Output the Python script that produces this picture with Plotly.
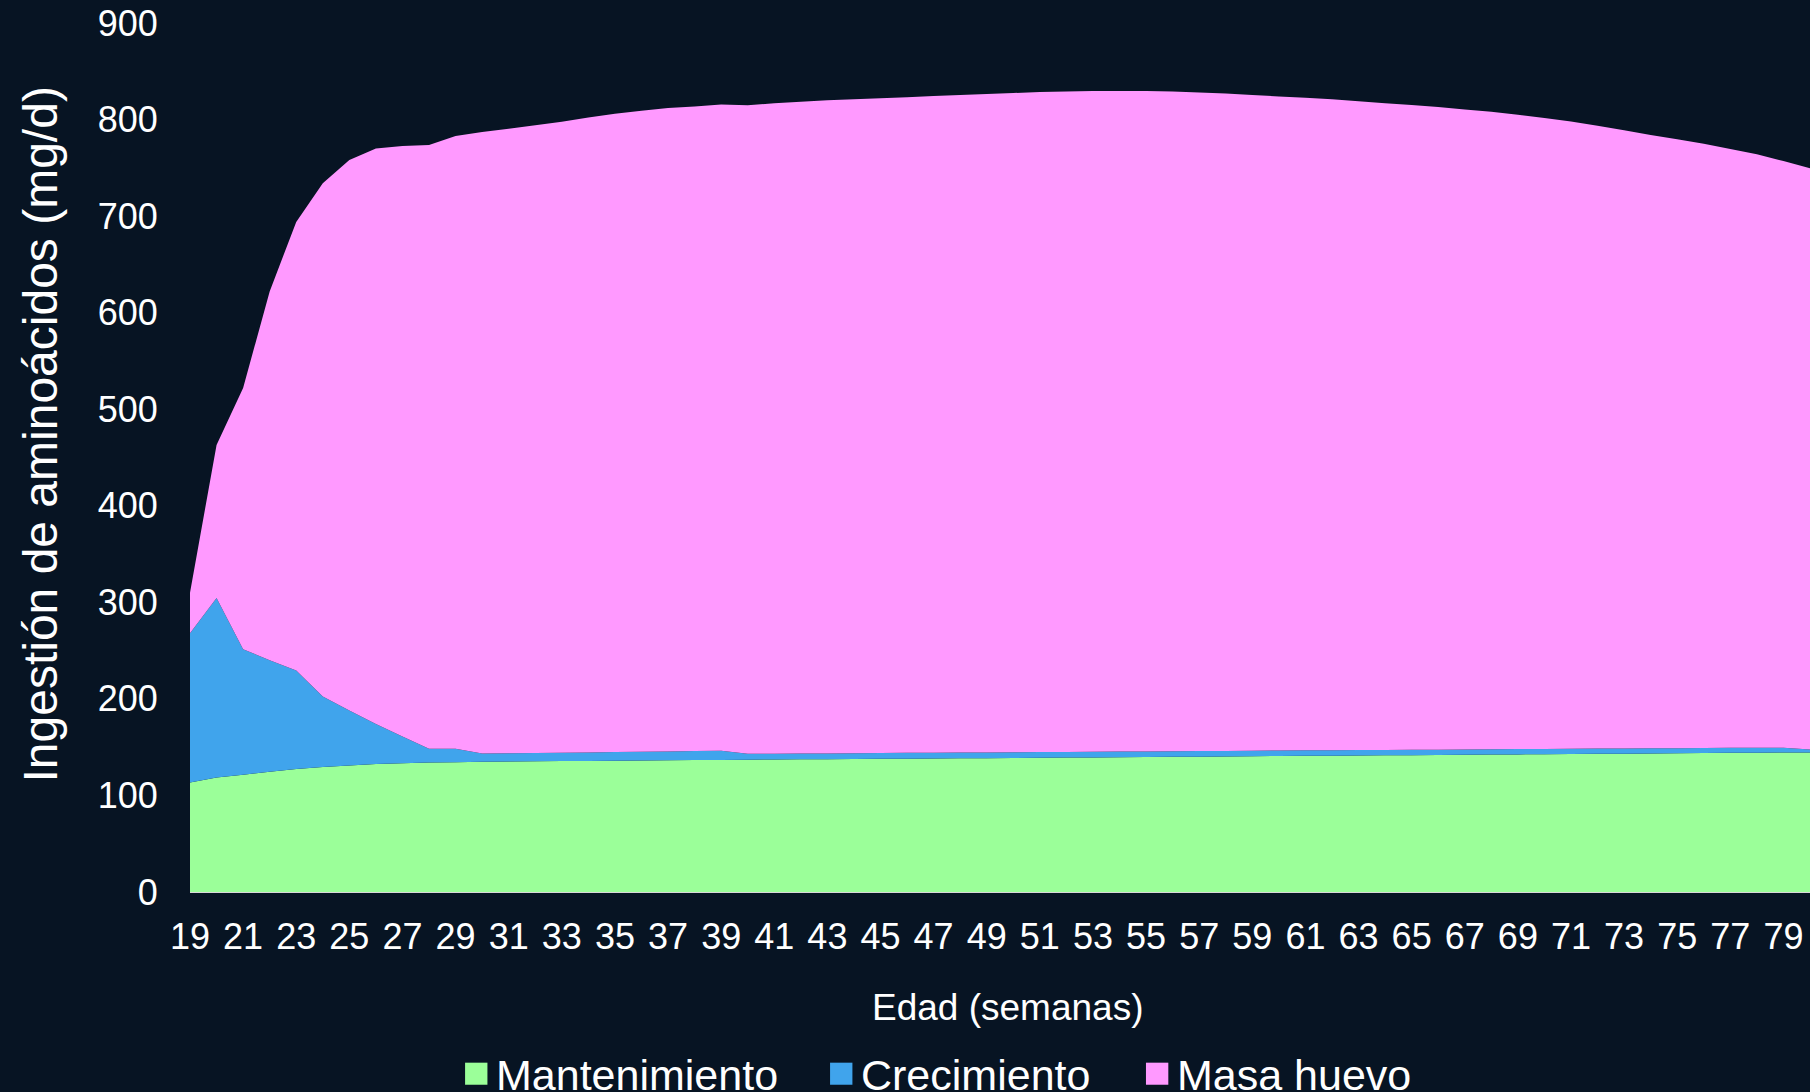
import plotly.graph_objects as go

# Edad (semanas)
semanas = list(range(19, 81))

# valores (mg/d), apilados
mantenimiento = [
    113.5, 118.5, 121.5, 124.5, 127.5, 129.5, 131.0, 132.5, 133.3, 134.0,
    134.5, 135.0, 135.2, 135.4, 135.6, 135.8, 136.0, 136.2, 136.4, 136.6,
    136.8, 137.0, 137.2, 137.4, 137.5, 137.7, 137.9, 138.1, 138.3, 138.4,
    138.6, 138.8, 139.0, 139.2, 139.4, 139.6, 139.8, 140.0, 140.2, 140.4,
    140.6, 140.8, 141.0, 141.2, 141.4, 141.5, 141.7, 141.9, 142.1, 142.3,
    142.5, 142.7, 142.9, 143.1, 143.3, 143.5, 143.7, 143.9, 144.1, 144.3,
    144.5, 144.6,
]
crecimiento = [
    154.5, 186.0, 130.0, 115.5, 102.0, 73.0, 57.0, 41.5, 27.7, 14.3,
    13.8, 8.5, 8.6, 8.6, 8.7, 8.8, 9.0, 9.1, 9.2, 9.4,
    9.5, 6.2, 6.0, 6.0, 6.0, 6.0, 6.0, 6.0, 6.0, 6.0,
    5.9, 5.9, 5.9, 5.9, 5.9, 5.8, 5.8, 5.8, 5.8, 5.7,
    5.7, 5.7, 5.7, 5.6, 5.6, 5.6, 5.6, 5.5, 5.5, 5.5,
    5.5, 5.4, 5.4, 5.4, 5.4, 5.3, 5.3, 5.3, 5.3, 5.2,
    5.0, 3.0,
]
masa_huevo = [
    42.0, 158.5, 270.5, 382.0, 464.5, 531.5, 570.0, 596.0, 611.5, 625.3,
    634.7, 643.5, 646.7, 650.0, 653.4, 657.4, 661.0, 663.7, 666.4, 667.5,
    669.4, 671.5, 673.8, 675.1, 676.5, 677.3, 678.1, 678.9, 680.2, 681.1,
    682.0, 682.8, 683.6, 683.9, 684.2, 684.1, 683.9, 683.2, 682.0, 680.9,
    679.2, 677.5, 675.8, 674.2, 672.0, 669.9, 667.7, 665.6, 662.9, 660.2,
    657.0, 653.4, 649.7, 645.0, 640.3, 635.2, 630.5, 625.8, 620.1, 614.5,
    607.5, 601.9,
]

nombres = ["Mantenimiento", "Crecimiento", "Masa huevo"]
colores = ["#9BFF99", "#40A4EC", "#FF99FF"]
valores = [mantenimiento, crecimiento, masa_huevo]

etiquetas_x = list(range(19, 80, 2))
etiquetas_y = list(range(0, 901, 100))

fondo = "#071423"
fuente = "Liberation Sans, Arial, sans-serif"

fig = go.Figure()
for nombre, ys, color in zip(nombres, valores, colores):
    fig.add_trace(go.Scatter(
        x=semanas, y=ys, name=nombre,
        mode="none", stackgroup="uno",
        fillcolor=color, showlegend=False,
    ))

# leyenda a mano (cuadrado + texto), en coordenadas de papel
pos_leyenda = [0.1698, 0.3951, 0.5901]
lado = 0.0138
formas = []
notas = []
for nombre, color, x0 in zip(nombres, colores, pos_leyenda):
    formas.append(dict(
        type="rect", xref="paper", yref="paper",
        x0=x0, x1=x0 + lado, y0=-0.2218, y1=-0.1964,
        fillcolor=color, line=dict(width=0),
    ))
    notas.append(dict(
        text=nombre, xref="paper", yref="paper",
        x=x0 + lado + 0.0043, y=-0.2102,
        xanchor="left", yanchor="middle", showarrow=False,
        font=dict(size=43, color="white"),
    ))

# títulos de ejes
notas.append(dict(
    text="Ingestión de aminoácidos (mg/d)",
    xref="paper", yref="paper", x=-0.0923, y=0.527,
    xanchor="center", yanchor="middle", textangle=-90,
    showarrow=False, font=dict(size=48, color="white"),
))
notas.append(dict(
    text="Edad (semanas)",
    xref="paper", yref="paper", x=0.5044, y=-0.1328,
    xanchor="center", yanchor="middle",
    showarrow=False, font=dict(size=37, color="white"),
))

fig.update_layout(
    width=1810, height=1092,
    paper_bgcolor=fondo,
    plot_bgcolor="rgba(0,0,0,0)",
    margin=dict(l=190, r=0, t=23, b=200, autoexpand=False),
    font=dict(family=fuente, color="white", size=36),
    showlegend=False,
    xaxis=dict(
        range=[19, 80],
        tickvals=etiquetas_x,
        ticks="outside", ticklen=13, tickcolor="rgba(0,0,0,0)",
        showgrid=False, zeroline=False,
        showline=True, linecolor="#d9d9d9", linewidth=1,
        tickfont=dict(size=36, color="white"),
    ),
    yaxis=dict(
        range=[0, 900],
        tickvals=etiquetas_y,
        ticks="outside", ticklen=24, tickcolor="rgba(0,0,0,0)",
        showgrid=False, zeroline=False, showline=False,
        tickfont=dict(size=36, color="white"),
    ),
    shapes=formas,
    annotations=notas,
)

fig.write_html(
    "out.html",
    config={"displayModeBar": False},
    post_script="document.body.style.margin='0';document.body.style.background='%s';" % fondo,
)
